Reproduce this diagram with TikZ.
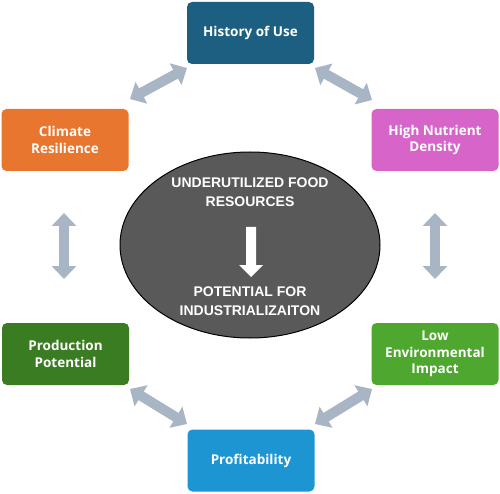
\documentclass[tikz,border=0pt]{standalone}
\usepackage{fontspec}
\setmainfont{Open Sans}
\newfontfamily\ellfont{Liberation Sans}
\usetikzlibrary{arrows.meta,shapes.geometric}
\definecolor{histc}{HTML}{1D5F80}
\definecolor{climc}{HTML}{E8762F}
\definecolor{nutc}{HTML}{D765C9}
\definecolor{prodc}{HTML}{3A7C22}
\definecolor{envc}{HTML}{4EA72E}
\definecolor{profc}{HTML}{1E95D3}
\definecolor{ellc}{HTML}{595959}
\definecolor{arrc}{HTML}{A7B5C5}
\tikzset{
  box/.style={rounded corners=5pt, minimum width=127pt, minimum height=62pt,
    text=white, font=\bfseries\fontsize{13.5}{16.5}\selectfont, align=center, inner sep=2pt},
  dbl/.style={draw=arrc, line width=10pt,
    {Triangle[width=24pt,length=13pt]}-{Triangle[width=24pt,length=13pt]}},
  elltext/.style={text=white, font=\ellfont\bfseries\fontsize{14}{18.5}\selectfont, align=center}
}
\begin{document}
\begin{tikzpicture}[x=1pt,y=-1pt]
\useasboundingbox (0,0) rectangle (500,494);
\fill[white] (0,0) rectangle (500,494);
% boxes
\node[box, fill=histc] (hist) at (250.5,33) {History of Use};
\node[box, fill=climc] (clim) at (65,140) {Climate\\Resilience};
\node[box, fill=nutc] (nut) at (435,140) {High Nutrient\\Density};
\node[box, fill=prodc] (prod) at (65.5,354) {Production\\Potential};
\node[box, fill=envc] (env) at (435,354) {Low\\Environmental\\Impact};
\node[box, fill=profc] (prof) at (251,460.5) {Profitability};
% ellipse
\node[ellipse, draw=black, line width=1pt, fill=ellc, minimum width=260pt, minimum height=186pt] (ell) at (250,245) {};
\node[elltext] (t1) at (250,192) {UNDERUTILIZED FOOD\\RESOURCES};
\node[elltext] (t2) at (250,301) {POTENTIAL FOR\\INDUSTRIALIZAITON};
\fill[white] (246,227) -- (256,227) -- (256,265) -- (263,265) -- (251,277) -- (239,265) -- (246,265) -- cycle;
% connectors
\coordinate (a1) at (130,99);  \coordinate (a2) at (187,68);
\coordinate (b1) at (315,68);  \coordinate (b2) at (372,100);
\coordinate (c1) at (64,213);  \coordinate (c2) at (64,279);
\coordinate (d1) at (435,213); \coordinate (d2) at (435,279);
\coordinate (e1) at (130,389); \coordinate (e2) at (187,424);
\coordinate (f1) at (315,424); \coordinate (f2) at (372,389);
\draw[dbl] (a1) -- (a2);
\draw[dbl] (b1) -- (b2);
\draw[dbl] (c1) -- (c2);
\draw[dbl] (d1) -- (d2);
\draw[dbl] (e1) -- (e2);
\draw[dbl] (f1) -- (f2);
\end{tikzpicture}
\end{document}
